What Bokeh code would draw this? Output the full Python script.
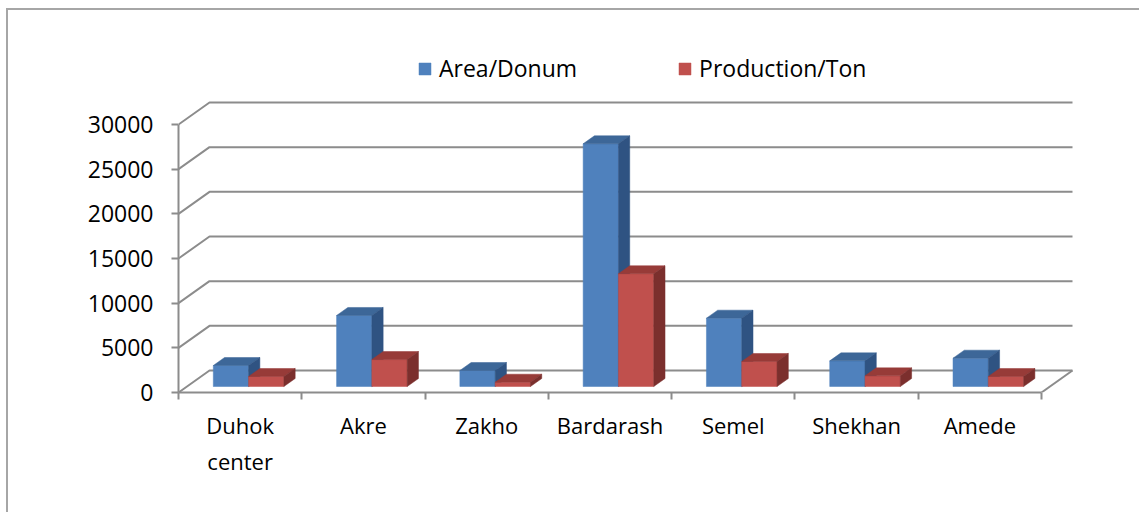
from bokeh.plotting import figure
from bokeh.models import Range1d, FixedTicker, LinearAxis, Legend, LegendItem
from bokeh.embed import file_html
from bokeh.resources import INLINE

# ---------------- data ----------------
categories = ["Duhok\ncenter", "Akre", "Zakho", "Bardarash", "Semel", "Shekhan", "Amede"]
area = [2350, 7950, 1790, 27170, 7650, 2870, 3170]
production = [1120, 3020, 480, 12620, 2800, 1190, 1120]
series_names = ["Area/Donum", "Production/Ton"]
y_ticks = [0, 5000, 10000, 15000, 20000, 25000, 30000]
y_tick_labels = ["0", "5000", "10000", "15000", "20000", "25000", "30000"]

# ---------------- geometry (pixels) ----------------
W, H = 1133, 504
MB_L, MB_R, MB_T, MB_B = 170, 63, 20, 122
FRAME_W = W - MB_L - MB_R
FRAME_H = H - MB_T - MB_B
CAT_PX = 863 / 7.0          # px per category on the front plane
VAL_PX = 268 / 30000.0      # px per value unit
WALL_DX, WALL_DY = 31, 22   # oblique depth of the chart box
BAR_OFF_DY = 6              # bar front plane depth
BAR_DEPTH_DY = 8            # bar depth
BAR_W_PX = 35.3
SLOPE = WALL_DX / WALL_DY

n = len(categories)
x_end = FRAME_W / CAT_PX
y_end = FRAME_H / VAL_PX

def cx(px):
    return px / CAT_PX

def vy(px):
    return px / VAL_PX

p = figure(width=W, height=H, x_range=Range1d(0, x_end), y_range=Range1d(0, y_end),
           output_backend="svg", toolbar_location=None,
           x_axis_type=None, y_axis_type=None,
           min_border_left=MB_L, min_border_right=MB_R,
           min_border_top=MB_T, min_border_bottom=MB_B)
p.outline_line_color = None
p.styles = {"border-left": "2px solid #a6a6a6", "border-top": "2px solid #a6a6a6",
            "margin-left": "6px", "margin-top": "8px"}

GRID_COLOR = "#8c8c8c"
FONT = "Open Sans"

# back wall gridlines (diagonal on the side, horizontal on the back)
wdx, wdy = cx(WALL_DX), vy(WALL_DY)
gx, gy = [], []
for t in y_ticks:
    gx.append([0, wdx, n + wdx])
    gy.append([t, t + wdy, t + wdy])
gx.append([n, n + wdx])
gy.append([0, wdy])
p.multi_line(gx, gy, line_color=GRID_COLOR, line_width=2)

# bars
bw = cx(BAR_W_PX)
b0x = cx(BAR_OFF_DY * SLOPE)
b0y = vy(BAR_OFF_DY)
bdx = cx(BAR_DEPTH_DY * SLOPE)
bdy = vy(BAR_DEPTH_DY)

colors = [("#4F81BD", "#3D6798", "#2F5382"), ("#C0504D", "#973B38", "#7B2F2D")]
front_renderers = []
for s, vals in enumerate([area, production]):
    left, right, bottom, top = [], [], [], []
    txs, tys, sxs, sys_ = [], [], [], []
    for i, v in enumerate(vals):
        xl = i + 0.5 + (s - 1) * bw + b0x
        xr = xl + bw
        yb = b0y
        yt = b0y + v
        left.append(xl); right.append(xr); bottom.append(yb); top.append(yt)
        txs.append([xl, xr, xr + bdx, xl + bdx])
        tys.append([yt, yt, yt + bdy, yt + bdy])
        sxs.append([xr, xr + bdx, xr + bdx, xr])
        sys_.append([yb, yb + bdy, yt + bdy, yt])
    fc, tc, sc = colors[s]
    r = p.quad(left=left, right=right, bottom=bottom, top=top,
               fill_color=fc, line_color=fc, line_width=0.5)
    p.patches(txs, tys, fill_color=tc, line_color=tc, line_width=0.5)
    p.patches(sxs, sys_, fill_color=sc, line_color=sc, line_width=0.5)
    front_renderers.append(r)

# y axis (front-left edge)
yaxis = LinearAxis(ticker=FixedTicker(ticks=y_ticks), bounds=(0, 30000),
                   major_label_overrides={t: l for t, l in zip(y_ticks, y_tick_labels)})
yaxis.axis_line_color = GRID_COLOR
yaxis.axis_line_width = 2
yaxis.major_tick_line_color = GRID_COLOR
yaxis.major_tick_line_width = 2
yaxis.major_tick_out = 7
yaxis.major_tick_in = 0
yaxis.minor_tick_line_color = None
yaxis.major_label_standoff = 18
yaxis.major_label_text_font = FONT
yaxis.major_label_text_font_size = "23px"
yaxis.major_label_text_color = "black"
p.add_layout(yaxis, "left")

# x axis (front edge of the floor)
centers = [i + 0.5 for i in range(n)]
xaxis = LinearAxis(ticker=FixedTicker(ticks=centers, minor_ticks=list(range(n + 1))),
                   bounds=(0, n),
                   major_label_overrides={c: l for c, l in zip(centers, categories)})
xaxis.axis_line_color = GRID_COLOR
xaxis.axis_line_width = 2
xaxis.major_tick_line_color = None
xaxis.major_tick_out = 0
xaxis.major_tick_in = 0
xaxis.minor_tick_line_color = GRID_COLOR
xaxis.minor_tick_line_width = 2
xaxis.minor_tick_out = 7
xaxis.minor_tick_in = 0
xaxis.major_label_standoff = 10
xaxis.major_label_text_font = FONT
xaxis.major_label_text_font_size = "22px"
xaxis.major_label_text_color = "black"
p.add_layout(xaxis, "below")

legend = Legend(items=[LegendItem(label=series_names[0], renderers=[front_renderers[0]]),
                       LegendItem(label=series_names[1], renderers=[front_renderers[1]])],
                orientation="horizontal", location=(239, 308),
                glyph_width=15, glyph_height=15, label_standoff=7, spacing=100,
                padding=0, margin=0, border_line_color=None, background_fill_alpha=0,
                label_text_font=FONT, label_text_font_size="23px", label_text_color="black")
p.add_layout(legend)

open("out.html", "w").write(file_html(p, INLINE))
